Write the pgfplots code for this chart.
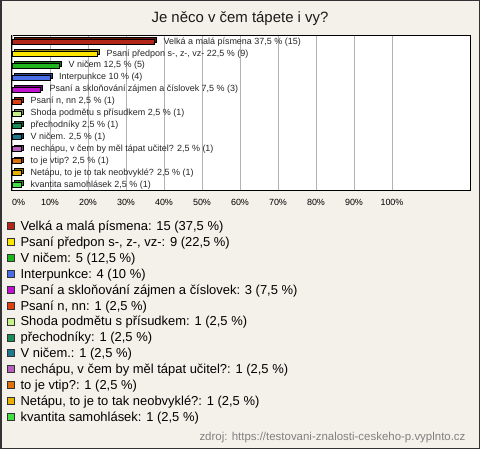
\documentclass[border=0pt]{standalone}
\usepackage{pgfplots}
\pgfplotsset{compat=1.18}
\usepackage{fontspec}
\setmainfont{Liberation Sans}
\definecolor{bgc}{HTML}{F3F1EA}
\definecolor{c1}{HTML}{B3261A}
\definecolor{c2}{HTML}{FFE600}
\definecolor{c3}{HTML}{1EB41E}
\definecolor{c4}{HTML}{4A6EE8}
\definecolor{c5}{HTML}{C010D0}
\definecolor{c6}{HTML}{E04010}
\definecolor{c7}{HTML}{C8F088}
\definecolor{c8}{HTML}{1A8C5A}
\definecolor{c9}{HTML}{1E7890}
\definecolor{c10}{HTML}{B860C0}
\definecolor{c11}{HTML}{E07008}
\definecolor{c12}{HTML}{E8B000}
\definecolor{c13}{HTML}{40E040}
\newcommand{\bb}[4]{%
 \addplot[forget plot, fill=#1!60!black, draw=black, line width=0.5bp, xshift=1.8bp, yshift=1.8bp] coordinates {(#3,#2)};
 \addplot[forget plot, fill=#1, draw=black, line width=0.5bp, nodes near coords={#4}] coordinates {(#3,#2)};
}
\pgfplotsset{myleg/.style={legend image code/.code={\draw[fill=#1, draw=black!80, line width=0.6bp] (0bp,-2.5bp) rectangle (7bp,4.5bp);}}}
\begin{document}
\begin{tikzpicture}
\path[use as bounding box] (0,0) rectangle (480bp,449bp);
\draw[fill=bgc, draw=black!80, line width=1.5bp] (0.75bp,0.75bp) rectangle (479.25bp,448.25bp);
\node[font=\fontsize{15}{17}\selectfont, text=black!90] at (240bp,430bp) {Je něco v čem tápete i vy?};
\node[anchor=east, font=\fontsize{11.5}{13}\selectfont, text=black!50] at (469bp,11bp) {zdroj: https://testovani-znalosti-ceskeho-p.vyplnto.cz};
\begin{axis}[
 at={(11bp,259bp)}, anchor=south west,
 scale only axis, width=459bp, height=155bp,
 xmin=-0.263, xmax=120.53,
 ymin=-0.56, ymax=12.42, y dir=reverse,
 xbar, bar width=5bp, bar shift=0pt,
 ytick=\empty,
 xtick={10,20,...,100},
 extra x ticks={0},
 extra x tick style={xticklabel style={anchor=north west}},
 /pgf/number format/assume math mode=true,
 xticklabel={\pgfmathprintnumber{\tick}\%},
 xticklabel style={font=\fontsize{9}{10}\selectfont, inner sep=0pt, yshift=-8.8bp},
 xmajorgrids, major grid style={draw=black!30, line width=0.8bp},
 major tick length=0pt,
 axis line style={line width=0.8bp},
 axis background/.style={fill=white},
 every node near coord/.append style={anchor=west, inner sep=0pt, xshift=9bp, font=\fontsize{9}{10}\selectfont, text=black!85},
 legend cell align=left,
 legend style={at={(-0.00871,-0.1968)}, anchor=north west, draw=none, fill=none, inner sep=0pt, outer sep=0pt, row sep=2.9bp, column sep=6bp, font=\fontsize{13}{15}\selectfont, nodes={inner sep=0pt, text height=10bp, text depth=3bp}},
]
\bb{c1}{0}{37.5}{Velká a malá písmena 37,5 \% (15)}
\bb{c2}{1}{22.5}{Psaní předpon s-, z-, vz- 22,5 \% (9)}
\bb{c3}{2}{12.5}{V ničem 12,5 \% (5)}
\bb{c4}{3}{10}{Interpunkce 10 \% (4)}
\bb{c5}{4}{7.5}{Psaní a skloňování zájmen a číslovek 7,5 \% (3)}
\bb{c6}{5}{2.5}{Psaní n, nn 2,5 \% (1)}
\bb{c7}{6}{2.5}{Shoda podmětu s přísudkem 2,5 \% (1)}
\bb{c8}{7}{2.5}{přechodníky 2,5 \% (1)}
\bb{c9}{8}{2.5}{V ničem. 2,5 \% (1)}
\bb{c10}{9}{2.5}{nechápu, v čem by měl tápat učitel? 2,5 \% (1)}
\bb{c11}{10}{2.5}{to je vtip? 2,5 \% (1)}
\bb{c12}{11}{2.5}{Netápu, to je to tak neobvyklé? 2,5 \% (1)}
\bb{c13}{12}{2.5}{kvantita samohlásek 2,5 \% (1)}
\addlegendimage{myleg=c1}\addlegendentry{Velká a malá písmena: 15 (37,5 \%)}
\addlegendimage{myleg=c2}\addlegendentry{Psaní předpon s-, z-, vz-: 9 (22,5 \%)}
\addlegendimage{myleg=c3}\addlegendentry{V ničem: 5 (12,5 \%)}
\addlegendimage{myleg=c4}\addlegendentry{Interpunkce: 4 (10 \%)}
\addlegendimage{myleg=c5}\addlegendentry{Psaní a skloňování zájmen a číslovek: 3 (7,5 \%)}
\addlegendimage{myleg=c6}\addlegendentry{Psaní n, nn: 1 (2,5 \%)}
\addlegendimage{myleg=c7}\addlegendentry{Shoda podmětu s přísudkem: 1 (2,5 \%)}
\addlegendimage{myleg=c8}\addlegendentry{přechodníky: 1 (2,5 \%)}
\addlegendimage{myleg=c9}\addlegendentry{V ničem.: 1 (2,5 \%)}
\addlegendimage{myleg=c10}\addlegendentry{nechápu, v čem by měl tápat učitel?: 1 (2,5 \%)}
\addlegendimage{myleg=c11}\addlegendentry{to je vtip?: 1 (2,5 \%)}
\addlegendimage{myleg=c12}\addlegendentry{Netápu, to je to tak neobvyklé?: 1 (2,5 \%)}
\addlegendimage{myleg=c13}\addlegendentry{kvantita samohlásek: 1 (2,5 \%)}
\end{axis}
\end{tikzpicture}
\end{document}
